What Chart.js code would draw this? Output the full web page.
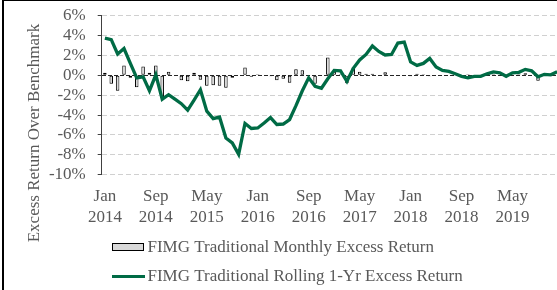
<!DOCTYPE html>
<html>
<head>
<meta charset="utf-8">
<script src="https://cdn.jsdelivr.net/npm/chart.js@4.4.1/dist/chart.umd.min.js"></script>
<style>
  html, body { margin: 0; padding: 0; background: #fff; overflow: hidden; }
  #wrap { position: relative; width: 557px; height: 290px; overflow: hidden; }
  #myChart { position: absolute; left: 0; top: 0; }
  #frame { position: absolute; left: 2px; top: 0; width: 570px; height: 300px;
           border-left: 2px solid #000; border-top: 1px solid #000; pointer-events: none; }
</style>
</head>
<body>
<div id="wrap">
  <canvas id="myChart" width="566" height="290"></canvas>
  <div id="frame"></div>
</div>
<script>
// months Jan 2014 .. Dec 2019
var monthNames = ['Jan', 'Feb', 'Mar', 'Apr', 'May', 'Jun', 'Jul', 'Aug', 'Sep', 'Oct', 'Nov', 'Dec'];
var years = [2014, 2015, 2016, 2017, 2018, 2019];
var labelEvery = 8;

// monthly excess return (%)
var monthlyExcess = [
    0.25, -0.85, -1.55, 1.0, -0.25, -1.2, 0.9, 0.25, 1.0, -2.3, 0.35, 0.05,
    -0.5, -0.6, 0.25, -0.45, -1.05, -1.0, -1.05, -1.25, -0.25, 0.05, 0.8, -0.15,
    0.1, 0.05, -0.1, -0.5, -0.35, -0.75, 0.6, 0.5, -0.05, -0.85, 0.05, 1.8,
    0.35, 0.1, -0.8, 0.8, 0.35, 0.15, 0.15, 0.05, 0.3, 0.05, -0.05, 0.05,
    -0.1, 0.15, 0.1, -0.1, 0.05, 0.05, 0.05, 0.05, -0.05, 0.1, 0.05, -0.05,
    0.1, 0.1, 0.05, -0.1, 0.05, 0.1, 0.2, -0.05, -0.55, 0.05, -0.05, 0.05
];

// rolling 1-yr excess return (%)
var rollingExcess = [
    3.75, 3.6, 2.15, 2.7, 1.2, -0.25, -0.15, -1.55, 0.05, -2.4, -1.95, -2.4,
    -2.85, -3.5, -2.5, -1.45, -3.6, -4.35, -4.2, -6.3, -6.8, -7.95, -4.85, -5.35,
    -5.3, -4.8, -4.25, -4.95, -4.9, -4.45, -3.05, -1.55, -0.25, -1.1, -1.3, -0.35,
    0.5, 0.45, -0.6, 0.7, 1.55, 2.1, 2.95, 2.4, 2.05, 2.1, 3.25, 3.35,
    1.35, 1.0, 1.2, 1.7, 0.85, 0.5, 0.4, 0.15, -0.1, -0.25, -0.1, -0.1,
    0.15, 0.35, 0.25, -0.1, 0.25, 0.3, 0.6, 0.45, -0.15, 0.1, 0.05, 0.35
];

var yTitle = 'Excess Return Over Benchmark';

var months = [];
years.forEach(function (y) {
    monthNames.forEach(function (m) { months.push([m, String(y)]); });
});

var textColor = '#595959';
var green = '#006b45';
var fontFamily = '"Liberation Serif", "Times New Roman", serif';

// axis title + legend drawn by hand so they sit where the original has them
var sideLabels = {
    id: 'sideLabels',
    afterDraw: function (chart) {
        var ctx = chart.ctx;
        ctx.save();
        ctx.fillStyle = textColor;
        ctx.font = '17px ' + fontFamily;
        ctx.textBaseline = 'middle';

        ctx.save();
        ctx.translate(35, 133);
        ctx.rotate(-Math.PI / 2);
        ctx.textAlign = 'center';
        ctx.fillText(yTitle, 0, 0);
        ctx.restore();

        var bars = chart.data.datasets[1];
        var line = chart.data.datasets[0];
        ctx.textAlign = 'left';

        ctx.fillStyle = bars.backgroundColor;
        ctx.fillRect(112.5, 243.5, 31, 7);
        ctx.strokeStyle = bars.borderColor;
        ctx.lineWidth = 1;
        ctx.strokeRect(112.5, 243.5, 31, 7);
        ctx.fillStyle = textColor;
        ctx.fillText(bars.label, 147.5, 247.5);

        ctx.strokeStyle = line.borderColor;
        ctx.lineWidth = 3;
        ctx.beginPath();
        ctx.moveTo(112, 276.5);
        ctx.lineTo(145, 276.5);
        ctx.stroke();
        ctx.fillText(line.label, 147.5, 277);
        ctx.restore();
    }
};

var ctx = document.getElementById('myChart').getContext('2d');
var myChart = new Chart(ctx, {
    type: 'bar',
    data: {
        labels: months,
        datasets: [{
            type: 'line',
            label: 'FIMG Traditional Rolling 1-Yr Excess Return',
            data: rollingExcess,
            borderColor: green,
            backgroundColor: green,
            borderWidth: 3.3,
            pointRadius: 0,
            tension: 0,
            order: 0
        }, {
            label: 'FIMG Traditional Monthly Excess Return',
            data: monthlyExcess,
            backgroundColor: '#d9d9d9',
            borderColor: '#000000',
            borderWidth: 1,
            borderSkipped: false,
            barPercentage: 0.55,
            categoryPercentage: 1,
            order: 1
        }]
    },
    options: {
        responsive: false,
        animation: false,
        devicePixelRatio: 1,
        layout: {
            padding: { top: 15.7, right: 5.7, bottom: 48, left: 0 }
        },
        plugins: {
            legend: { display: false },
            tooltip: { enabled: false }
        },
        scales: {
            x: {
                grid: { display: false },
                border: { display: false },
                ticks: {
                    autoSkip: false,
                    maxRotation: 0,
                    padding: 4,
                    color: textColor,
                    font: { family: fontFamily, size: 17, lineHeight: 1.2 },
                    callback: function (val, i) {
                        return i % labelEvery === 0 ? this.getLabelForValue(val) : '';
                    }
                },
                afterFit: function (scale) { scale.height = 67.3; }
            },
            y: {
                min: -10,
                max: 6,
                ticks: {
                    stepSize: 2,
                    autoSkip: false,
                    padding: 12,
                    color: textColor,
                    font: { family: fontFamily, size: 17 },
                    callback: function (v) { return v + '%'; }
                },
                grid: {
                    color: function (c) {
                        return c.tick && c.tick.value === 0 ? '#262626' : '#d0d0d0';
                    },
                    tickColor: '#404040',
                    tickLength: 4,
                    tickBorderDash: []
                },
                border: {
                    display: true,
                    color: '#404040',
                    dash: function (c) {
                        return c.tick && c.tick.value === 0 ? [4, 2] : [5, 3];
                    }
                },
                afterFit: function (scale) {
                    scale.width = 101.7;
                    scale.paddingTop = 0;
                    scale.paddingBottom = 0;
                }
            }
        }
    },
    plugins: [sideLabels]
});
</script>
</body>
</html>
